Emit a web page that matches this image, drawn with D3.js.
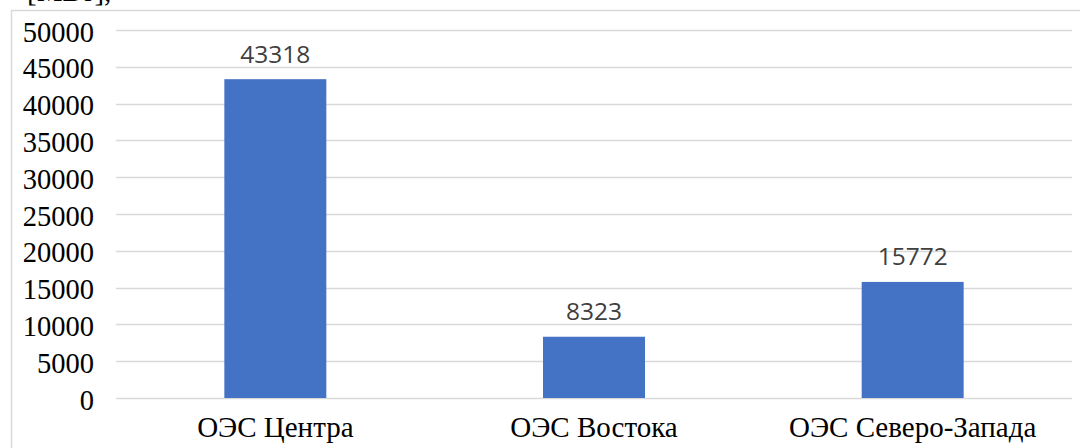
<!DOCTYPE html>
<html>
<head>
<meta charset="utf-8">
<script src="https://cdn.jsdelivr.net/npm/d3@7"></script>
<style>
  html, body { margin: 0; padding: 0; background: #fff; }
  svg { display: block; }
</style>
</head>
<body>
<svg id="chart" width="1080" height="448"></svg>
<script>
// Installed capacity by unified energy system
const categories = ["ОЭС Центра", "ОЭС Востока", "ОЭС Северо-Запада"];
const values = [43318, 8323, 15772];
const yTicks = [0, 5000, 10000, 15000, 20000, 25000, 30000, 35000, 40000, 45000, 50000];
const unitLabel = "[МВт],";

const SERIF = "Liberation Serif";
const SANS = "Open Sans";

const svg = d3.select("#chart");
const W = 1080, H = 448;
const plot = { left: 116, right: 1072, top: 30, bottom: 398 };

// chart frame
svg.append("rect")
  .attr("x", 11.5).attr("y", 10.5)
  .attr("width", W).attr("height", H)
  .attr("fill", "none")
  .attr("stroke", "#d9d9d9")
  .attr("stroke-width", 1.5);

// unit caption running off the top edge
svg.append("text")
  .attr("x", 27).attr("y", 1)
  .attr("font-family", SERIF)
  .attr("font-size", 29)
  .attr("fill", "#000")
  .text(unitLabel);

const x = d3.scaleBand()
  .domain(categories)
  .range([plot.left, plot.right])
  .paddingInner(0.68)
  .paddingOuter(0.34);

const y = d3.scaleLinear()
  .domain([0, 50000])
  .range([plot.bottom, plot.top]);

// horizontal gridlines
svg.append("g")
  .selectAll("line")
  .data(yTicks)
  .join("line")
  .attr("x1", plot.left).attr("x2", plot.right)
  .attr("y1", d => Math.round(y(d)) + 0.5)
  .attr("y2", d => Math.round(y(d)) + 0.5)
  .attr("stroke", "#d9d9d9")
  .attr("stroke-width", 1.5);

// y axis labels
const yAxis = d3.axisLeft(y).tickValues(yTicks).tickSize(0).tickPadding(0).tickFormat(d3.format("d"));
const gy = svg.append("g").attr("transform", `translate(${plot.left - 22},0)`).call(yAxis)
  .attr("font-family", SERIF).attr("font-size", 28.5);
gy.select(".domain").remove();
gy.selectAll("text")
  .attr("font-family", SERIF)
  .attr("font-size", 28.5)
  .attr("fill", "#000")
  .attr("dy", 11);

// bars
svg.append("g")
  .selectAll("rect")
  .data(values)
  .join("rect")
  .attr("x", (d, i) => x(categories[i]))
  .attr("width", x.bandwidth())
  .attr("y", d => y(d))
  .attr("height", d => y(0) - y(d))
  .attr("fill", "#4472c4");

// value labels
svg.append("g")
  .selectAll("text")
  .data(values)
  .join("text")
  .attr("x", (d, i) => x(categories[i]) + x.bandwidth() / 2)
  .attr("y", d => y(d) - 16.5)
  .attr("text-anchor", "middle")
  .attr("font-family", SANS)
  .attr("font-size", 24.5)
  .attr("fill", "#404040")
  .text(d => d);

// category labels
const xAxis = d3.axisBottom(x).tickSize(0).tickPadding(0);
const gx = svg.append("g").attr("transform", `translate(0,${plot.bottom})`).call(xAxis)
  .attr("font-family", SERIF).attr("font-size", 29);
gx.select(".domain").remove();
gx.selectAll("text")
  .attr("font-family", SERIF)
  .attr("font-size", 29)
  .attr("fill", "#000")
  .attr("y", 39)
  .attr("dy", 0);
</script>
</body>
</html>
